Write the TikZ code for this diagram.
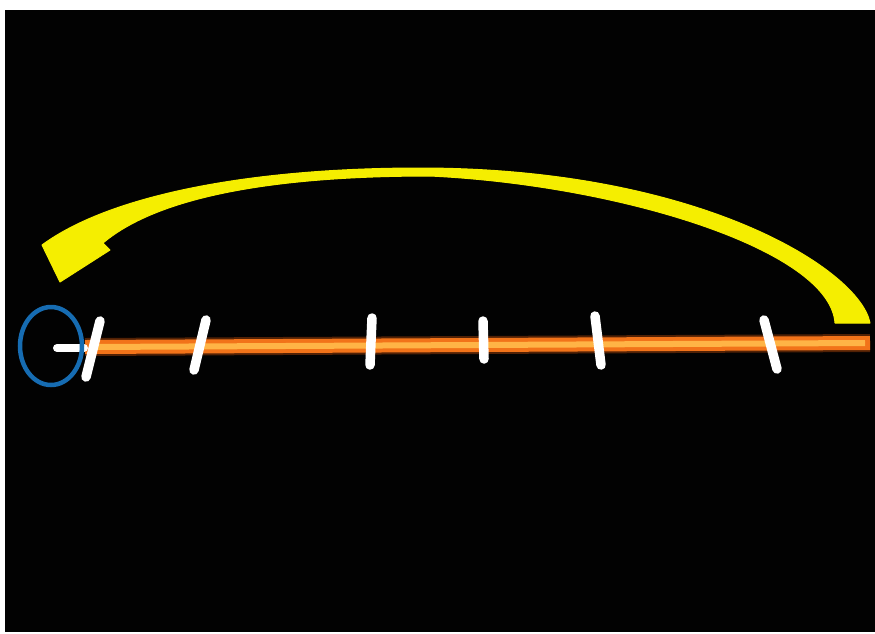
\documentclass[tikz,border=0pt]{standalone}
\usetikzlibrary{calc}
\definecolor{bgblack}{RGB}{2,2,2}
\definecolor{lineglow}{RGB}{200,80,10}
\definecolor{lineorange}{RGB}{242,115,25}
\definecolor{linelight}{RGB}{255,180,70}
\definecolor{arrowyellow}{RGB}{245,238,0}
\definecolor{ringblue}{RGB}{22,108,178}
\tikzset{
  tickmark/.style={draw=white,line width=9.5pt,line cap=round},
  numglow/.style={draw=lineglow,line width=18pt,opacity=0.4},
  numline/.style={draw=lineorange,line width=14pt},
  numlinecore/.style={draw=linelight,line width=6pt},
  ring/.style={draw=ringblue,line width=4.5pt},
  bigarrow/.style={fill=arrowyellow,draw=arrowyellow,line width=1pt,line join=round}
}
\begin{document}
\begin{tikzpicture}[x=1pt,y=-1pt]
\useasboundingbox (0,0) rectangle (875,633);
\fill[white] (0,0) rectangle (875,633);
\fill[bgblack] (5,10) rectangle (875,632);
% number line
\coordinate (L0) at (85,347);
\coordinate (L1) at (870,343);
\draw[numglow] (L0) -- (L1);
\draw[numline] (L0) -- (L1);
\draw[numlinecore] ($(L0)+(5,0)$) -- ($(L1)+(-5,0)$);
% white start stub
\coordinate (S0) at (57,348);
\coordinate (S1) at (84,348);
\draw[draw=white,line width=8pt,line cap=round] (S0) -- (S1);
% blue ring
\draw[ring] (51,346) ellipse [x radius=31, y radius=39];
% ticks
\draw[tickmark] (100,321) -- (86,377);
\draw[tickmark] (206,320) -- (194,370);
\draw[tickmark] (372,318) -- (370,365);
\draw[tickmark] (483,321) -- (484,359);
\draw[tickmark] (595,316) -- (601,365);
\draw[tickmark] (764,320) -- (777,369);
% yellow curved arrow
\coordinate (Aend) at (870,323);
\coordinate (Atop) at (420,168);
\coordinate (Hleft) at (42,245);
\coordinate (Htip) at (60,282);
\coordinate (Hbarb) at (110,250);
\coordinate (Hneck) at (103,243);
\coordinate (Itop) at (430,176);
\coordinate (Iend) at (835,323);
\path[bigarrow]
  (Aend) .. controls (860,270) and (700,168) .. (Atop)
  .. controls (250,168) and (110,195) .. (Hleft)
  -- (Htip) -- (Hbarb) -- (Hneck)
  .. controls (160,195) and (280,176) .. (Itop)
  .. controls (620,185) and (830,250) .. (Iend)
  -- cycle;
\end{tikzpicture}
\end{document}
